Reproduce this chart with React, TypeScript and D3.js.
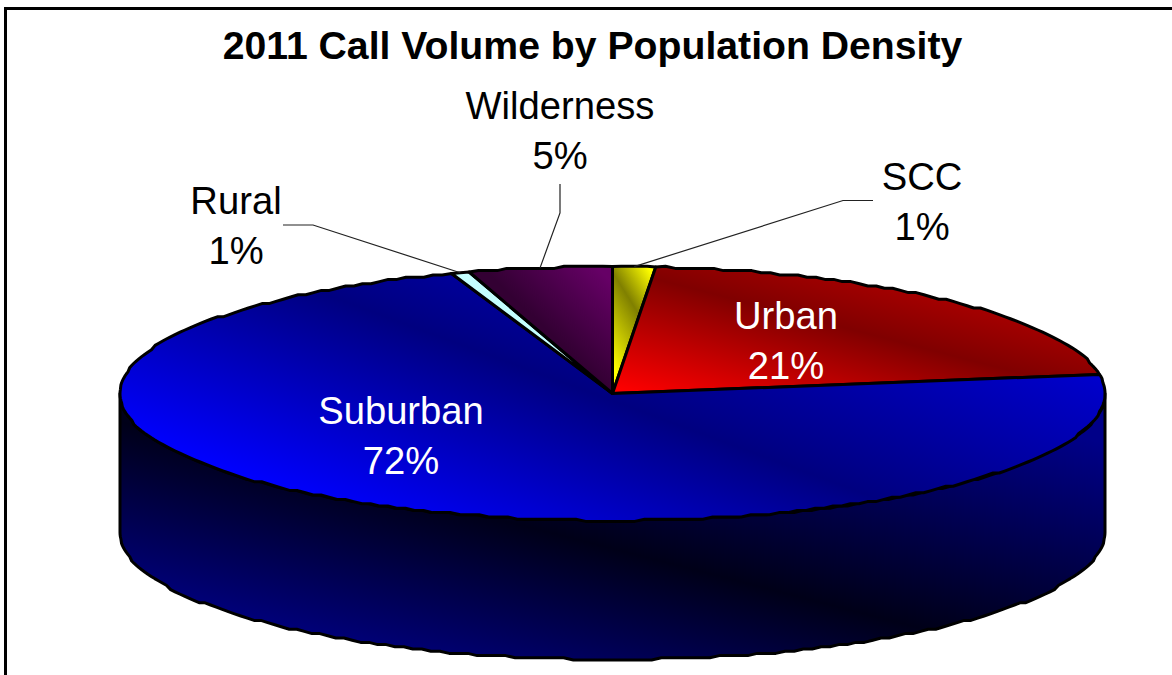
import React from "react";
import * as d3 from "d3";

// Share of 2011 calls per population-density class, clockwise from 12 o'clock.
const categories = ["SCC", "Urban", "Suburban", "Rural", "Wilderness"];
const shares = [1.4, 21.2, 72.1, 0.6, 4.7];
const chartTitle = "2011 Call Volume by Population Density";

const WIDTH = 1172;
const HEIGHT = 675;
const FONT = "'Liberation Sans', Arial, sans-serif";

// Tilted-disc geometry of the pie.
const CX = 612.5;
const CY = 393.5;
const RX = 492.5;
const RY = 127;
const DEPTH = 139;
const GRID = 2.2; // coarse vertex grid, gives the rim its slightly faceted look

const xScale = d3.scaleLinear().domain([-1, 1]).range([CX - RX, CX + RX]);
const yScale = d3.scaleLinear().domain([-1, 1]).range([CY - RY, CY + RY]);

const snap = (v: number) => Math.round(v / GRID) * GRID;
const project = (a: number): [number, number] => [xScale(Math.sin(a)), yScale(-Math.cos(a))];

// Points along the rim between two angles, snapped to the vertex grid.
function rim(a0: number, a1: number, dy = 0): [number, number][] {
  const n = Math.max(2, Math.ceil(Math.abs(a1 - a0) / 0.02));
  const angle = d3.scaleLinear().domain([0, n]).range([a0, a1]);
  return d3.range(n + 1).map((i) => {
    const [x, y] = project(angle(i));
    return i === 0 || i === n ? [x, y + dy] : [x, snap(y + dy)];
  });
}

const lineGen = d3.line<[number, number]>().x((d) => d[0]).y((d) => d[1]);

const slices = d3
  .pie<number>()
  .sort(null)
  .startAngle(0)
  .endAngle(2 * Math.PI)(shares);

type Stop = [number, string];
type Grad = { id: string; at: [number, number]; dir: [number, number]; stops: Stop[] };

// Three-tone sheen per slice: stops are pixel distances along `dir` from `at`.
const gradients: Grad[] = [
  { id: "g-SCC", at: [630, 300], dir: [0.85, -0.53], stops: [[-50, "#ffff00"], [0, "#808000"], [33, "#ffff00"]] },
  { id: "g-Urban", at: [710, 293], dir: [0.25, -0.968], stops: [[-118, "#ff0000"], [0, "#800000"], [60, "#aa0000"]] },
  { id: "g-Suburban", at: [800, 470], dir: [0.347, -0.938], stops: [[-200, "#0000ff"], [0, "#000080"], [200, "#0000d0"]] },
  { id: "g-Rural", at: [460, 300], dir: [1, 0], stops: [[-50, "#c4ffff"], [50, "#c4ffff"]] },
  { id: "g-Wilderness", at: [545, 328], dir: [0.69, -0.72], stops: [[0, "#330033"], [80, "#660066"]] },
  { id: "g-side", at: [850, 610], dir: [0.25, -0.968], stops: [[-170, "#000080"], [0, "#000018"], [225, "#000088"]] },
];

function GradientDef({ g }: { g: Grad }) {
  const lo = g.stops[0][0];
  const hi = g.stops[g.stops.length - 1][0];
  const offset = d3.scaleLinear().domain([lo, hi]).range([0, 1]);
  return (
    <linearGradient
      id={g.id}
      gradientUnits="userSpaceOnUse"
      x1={g.at[0] + g.dir[0] * lo}
      y1={g.at[1] + g.dir[1] * lo}
      x2={g.at[0] + g.dir[0] * hi}
      y2={g.at[1] + g.dir[1] * hi}
    >
      {g.stops.map(([d, c]) => (
        <stop key={d} offset={offset(d)} stopColor={c} />
      ))}
    </linearGradient>
  );
}

// Label placement per category: centre x, first baseline, text colour, optional leader bend.
const labelLayout: Record<string, { x: number; y: number; fill: string; leader?: [number, number][] }> = {
  SCC: { x: 922, y: 190, fill: "#000", leader: [[873, 200.5], [843, 200.5]] },
  Urban: { x: 786, y: 329, fill: "#fff" },
  Suburban: { x: 401, y: 424, fill: "#fff" },
  Rural: { x: 236, y: 214, fill: "#000", leader: [[283, 225], [313, 225]] },
  Wilderness: { x: 560, y: 119, fill: "#000", leader: [[560, 184], [560, 213]] },
};

export default function App() {
  const topPath = (a0: number, a1: number) =>
    (lineGen([[CX, CY], ...rim(a0, a1)]) as string) + "Z";

  const sidePath =
    (lineGen([...rim(Math.PI / 2, (3 * Math.PI) / 2), ...rim((3 * Math.PI) / 2, Math.PI / 2, DEPTH)]) as string) + "Z";

  return (
    <svg
      width={WIDTH}
      height={HEIGHT}
      viewBox={`0 0 ${WIDTH} ${HEIGHT}`}
      style={{ position: "fixed", left: 0, top: 0, background: "#fff" }}
    >
      <defs>
        {gradients.map((g) => (
          <GradientDef key={g.id} g={g} />
        ))}
      </defs>

      <rect x={5.5} y={8.5} width={1400} height={900} fill="#fff" stroke="#000" strokeWidth={3} />

      <text
        x={592.5}
        y={59}
        textAnchor="middle"
        fontFamily={FONT}
        fontWeight="bold"
        fontSize={39.2}
        fill="#000"
      >
        {chartTitle}
      </text>

      <path d={sidePath} fill="url(#g-side)" stroke="#000" strokeWidth={3} strokeLinejoin="round" />

      {slices.map((s, i) => (
        <path
          key={categories[i]}
          d={topPath(s.startAngle, s.endAngle)}
          fill={`url(#g-${categories[i]})`}
          stroke="#000"
          strokeWidth={3}
          strokeLinejoin="round"
        />
      ))}

      {slices.map((s, i) => {
        const layout = labelLayout[categories[i]];
        if (!layout.leader) return null;
        const tip = project((s.startAngle + s.endAngle) / 2);
        return (
          <path
            key={categories[i]}
            d={lineGen([...layout.leader, tip]) as string}
            fill="none"
            stroke="#222"
            strokeWidth={1.2}
          />
        );
      })}

      {slices.map((s, i) => {
        const layout = labelLayout[categories[i]];
        return (
          <text
            key={categories[i]}
            textAnchor="middle"
            fontFamily={FONT}
            fontSize={38.2}
            fill={layout.fill}
          >
            <tspan x={layout.x} y={layout.y}>
              {categories[i]}
            </tspan>
            <tspan x={layout.x} y={layout.y + 50}>
              {`${Math.round(s.data)}%`}
            </tspan>
          </text>
        );
      })}
    </svg>
  );
}
